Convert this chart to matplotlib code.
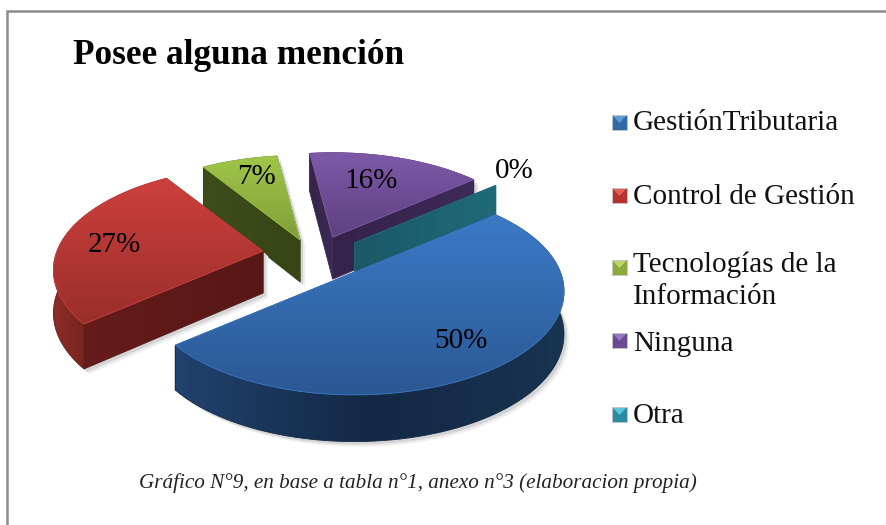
import numpy as np
import matplotlib
matplotlib.use("Agg")
import matplotlib.pyplot as plt
from matplotlib.colors import LinearSegmentedColormap
from matplotlib.patches import Polygon, Rectangle

plt.rcParams['font.family'] = ['Liberation Serif', 'DejaVu Serif']

# data
categories = ["GestiónTributaria", "Control de Gestión", "Tecnologías de la\nInformación", "Ninguna", "Otra"]
values = [50, 27, 7, 16, 0]
explode = [0.29, 0.26, 0.14, 0.17, 0.22]
title = "Posee alguna mención"
caption = "Gráfico N°9, en base a tabla n°1, anexo n°3 (elaboracion propia)"

# colours per slice: top surface (back, front), rim (left, mid, right), cut face, legend
top_cols = [("#3c7ac6", "#2a5894"), ("#cc403c", "#9a2e2b"), ("#a0c64a", "#7f9e38"), ("#7e59a8", "#5f4182"), ("#2f93a8", "#2f93a8")]
rim_cols = [("#21426e", "#132844", "#183450"), ("#8e2c28", "#641c1a", "#641c1a"), ("#3f4f1a", "#3f4f1a", "#3f4f1a"),
            ("#38264f", "#38264f", "#38264f"), ("#1d5f6e", "#1d5f6e", "#1d5f6e")]
cut_cols = [("#1a3558", "#1a3558"), ("#651c1a", "#561715"), ("#3e4e1a", "#364416"), ("#352349", "#3d2a56"), ("#1c5866", "#1f6a78")]
leg_cols = ["#2f69a8", "#b5322e", "#8aaa3c", "#6a4a92", "#2a8ba0"]
leg_light = ["#5f9bd8", "#e0605a", "#bcd86a", "#9678c0", "#5cc4d8"]

# where the percent labels and legend rows sit
pct_pos = [(461, 341), (114, 245), (257, 177), (371, 181), (514, 171)]
leg_y = [123, 196, 268, 341, 415]
text_y = [123, 197, 268, 344, 416]

# pie placement in pixels
cx, cy = 316, 250
a0, b0 = 206, 100
q = 0.185
d0 = 42
# small shift per slice, the original perspective is not a plain explode
nudge = [(0, 0), (0, 5), (-6, 3), (4, 3), (4, 7)]

fig = plt.figure(figsize=(8.86, 5.25), dpi=100, facecolor="white")
ax = fig.add_axes([0, 0, 1, 1])
wedges, _ = ax.pie(values, explode=explode, startangle=40, counterclock=False)
slices = [(w.center, w.theta1, w.theta2) for w in wedges]
for w in wedges:
    w.remove()
ax.set_aspect('auto')
ax.set_axis_off()


def project(center, u, v, drop=0.0):
    w = 1 + q * v
    x = cx + a0 * (center[0] + u / w)
    y = cy - b0 * (center[1] + v / w) + drop / (1 + 0.1 * v)
    return x, y


def rim(center, t1, t2, drop=0.0):
    t = np.radians(np.linspace(t1, t2, 90))
    return np.array([project(center, np.cos(a), np.sin(a), drop) for a in t])


def gradient_fill(pts, cols, z, vertical=False, edge=None):
    # gradient image clipped to the polygon, outline smooths the clip edge
    pts = np.asarray(pts)
    cmap = LinearSegmentedColormap.from_list("g", cols)
    ramp = np.linspace(0, 1, 128)
    img = ramp[:, None] if vertical else ramp[None, :]
    x0, x1 = pts[:, 0].min(), pts[:, 0].max() + 0.01
    y0, y1 = pts[:, 1].min(), pts[:, 1].max() + 0.01
    im = ax.imshow(img, cmap=cmap, extent=(x0, x1, y1, y0), aspect='auto', zorder=z, origin='upper')
    patch = Polygon(pts, closed=True, facecolor='none', edgecolor=edge or cols[len(cols) // 2], linewidth=0.6, zorder=z + 0.1)
    ax.add_patch(patch)
    im.set_clip_path(patch)


def draw_slice(i, z):
    center, t1, t2 = slices[i]
    shift = np.array(nudge[i])
    apex = np.array(project(center, 0, 0)) + shift
    apex_low = np.array(project(center, 0, 0, d0)) + shift
    top = rim(center, t1, t2) + shift
    low = rim(center, t1, t2, d0) + shift
    cuts = [np.array([top[0], apex, apex_low, low[0]]), np.array([top[-1], apex, apex_low, low[-1]])]
    cuts.sort(key=lambda c: c[0][1])
    has_area = t2 > t1
    # a rim that faces the viewer goes over the cut faces, a back rim under them
    rim_front = low[:, 1].max() > apex_low[1] + 20

    if has_area:
        # soft shadow under the slice
        for off, col in ((5, "#eeeeee"), (3, "#d4d4d4")):
            ax.add_patch(Polygon(low + off, closed=True, facecolor=col, edgecolor='none', zorder=z))
            for c in cuts:
                ax.add_patch(Polygon(c + off, closed=True, facecolor=col, edgecolor='none', zorder=z))
        gradient_fill(np.vstack([top, low[::-1]]), rim_cols[i], z + (4 if rim_front else 1))
    for n, c in enumerate(cuts):
        gradient_fill(c, cut_cols[i], z + 2 + n * 0.5)
    if has_area:
        pts = np.vstack([top, [apex]])
        gradient_fill(pts, top_cols[i], z + 5, vertical=True, edge=top_cols[i][0])


# back slices first, blue in front
for z, i in enumerate([2, 1, 3, 4, 0]):
    draw_slice(i, 10 * (z + 1))

# percent labels
for v, (x, y) in zip(values, pct_pos):
    ax.text(x, y, f"{v}%", fontsize=21, color="black", ha='center', va='center', zorder=100)

# legend
for i, name in enumerate(categories):
    y = leg_y[i]
    ax.add_patch(Rectangle((612, y - 8), 15, 15, facecolor=leg_cols[i], edgecolor="#c8c8c8", linewidth=0.6, zorder=100))
    ax.add_patch(Polygon([(613, y - 7), (626, y - 7), (619.5, y)], closed=True, facecolor=leg_light[i],
                         edgecolor='none', zorder=101))
    if "\n" in name:
        ax.text(633, text_y[i] - 16, name, fontsize=21, color="#111111", ha='left', va='top', linespacing=1.29, zorder=100)
    else:
        ax.text(633, text_y[i], name, fontsize=21, color="#111111", ha='left', va='center', zorder=100)

ax.text(73, 56, title, fontsize=25.4, fontweight='bold', color="black", ha='left', va='center', zorder=100)
ax.text(418, 483, caption, fontsize=15.2, style='italic', color="#222222", ha='center', va='center', zorder=100)

# chart border, only left and top show
ax.plot([7, 7, 886], [525, 11, 11], color="#8c8c8c", linewidth=1.8, zorder=100, solid_joinstyle='miter')

ax.set_xlim(0, 886)
ax.set_ylim(525, 0)
fig.savefig("out.png", dpi=100, facecolor="white")
